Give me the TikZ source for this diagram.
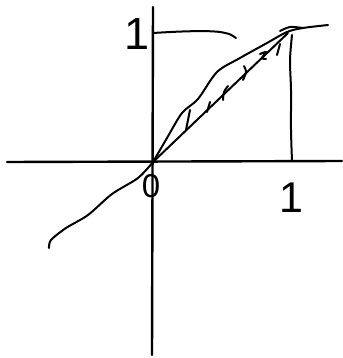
\documentclass[tikz,border=0pt]{standalone}
\usepackage{fontspec}
\setmainfont{Liberation Sans}
\usetikzlibrary{positioning}
\begin{document}
\begin{tikzpicture}[x=1pt, y=-1pt, line cap=round, line join=round,
    ink/.style={black, line width=2pt},
    axisline/.style={black, line width=2.4pt},
    digit/.style={inner sep=0pt, font=\fontsize{#1}{#1}\selectfont}]
  \useasboundingbox (0,0) rectangle (342,358);
  % axes
  \coordinate (o) at (153,162);
  \coordinate (xl) at (7,162);
  \coordinate (xr) at (342,161);
  \coordinate (yt) at (153,7);
  \coordinate (yb) at (152,355);
  \draw[axisline] (xl) -- (xr);
  \draw[axisline] (yt) -- (yb);
  % marks for 1 on both axes
  \coordinate (ytick) at (153,33);
  \draw[ink] (ytick) .. controls (185,31) and (215,30) .. (225,33) .. controls (230,34) .. (236,38);
  \coordinate (xtick) at (292,161);
  \draw[ink] (xtick) plot[smooth] coordinates {(292,161) (291,130) (291,90) (290,60) (292,35)};
  % curves between 0 and 1
  \coordinate (top) at (288,33);
  \draw[ink] (o) -- (top);
  \draw[ink] plot[smooth] coordinates {(153,162) (167,138) (182,113) (198,99) (217,72)
    (240,58) (267,43) (287,32) (303,28) (328,25)};
  \draw[ink] plot[smooth] coordinates {(280,31) (290,27) (303,28)};
  % hatching
  \draw[ink] (190,110) -- (186,130);
  \draw[ink] (210,102) -- (207,112);
  \draw[ink] plot[smooth] coordinates {(228,86) (224,92) (223,100)};
  \draw[ink] plot[smooth] coordinates {(244,66) (246,72) (243,80)};
  \draw[ink] plot[smooth] coordinates {(260,54) (266,52) (262,58) (266,59)};
  \draw[ink] (280,44) -- (277,55);
  % lower left part
  \draw[ink] plot[smooth] coordinates {(153,162) (138,178) (112,194) (88,215)
    (66,228) (51,240) (49,248)};
  % labels
  \node[digit=45] (one-y) at (137,34) {1};
  \node[digit=33] (zero) at (151,186) {0};
  \node[digit=43] (one-x) at (291,198) {1};
\end{tikzpicture}
\end{document}
